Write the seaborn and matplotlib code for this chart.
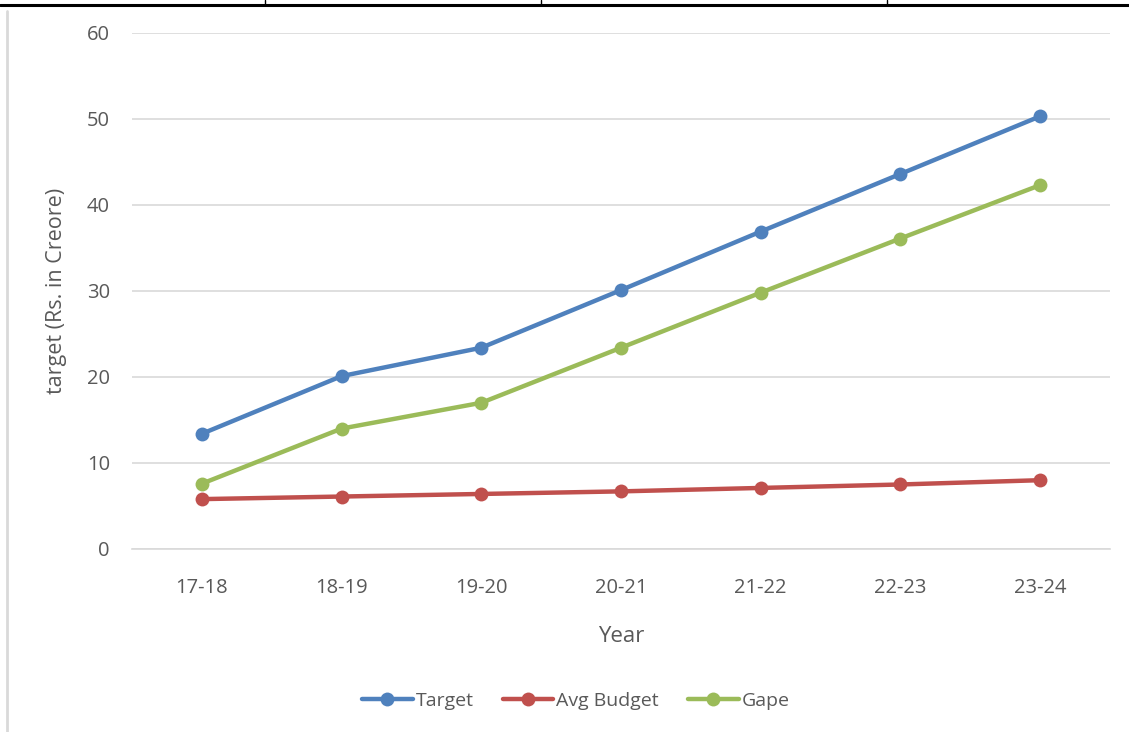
import pandas as pd
import numpy as np

import seaborn as sns
import matplotlib.pyplot as plt
from matplotlib.lines import Line2D

# Values
years = ['17-18', '18-19', '19-20', '20-21', '21-22', '22-23', '23-24']
target = [13.4, 20.1, 23.4, 30.1, 36.9, 43.6, 50.3]
avg_budget = [5.8, 6.1, 6.4, 6.7, 7.1, 7.5, 8.0]
gape = [7.6, 14.0, 17.0, 23.4, 29.8, 36.1, 42.3]

series_names = ['Target', 'Avg Budget', 'Gape']
colors = ['#4F81BD', '#C0504D', '#9BBB59']

df = pd.DataFrame({'Year': years * 3,
                   'value': target + avg_budget + gape,
                   'series': np.repeat(series_names, len(years))})

sns.set_style('white')
plt.rcParams['font.family'] = ['Open Sans', 'DejaVu Sans']

fig = plt.figure(figsize=(11.29, 7.32), dpi=100)
ax = fig.add_axes([0.117, 0.25, 0.866, 0.705])

sns.lineplot(data=df, x='Year', y='value', hue='series', palette=colors,
             marker='o', markersize=10, markeredgewidth=0, linewidth=3.2,
             sort=False, legend=False, ax=ax)

ax.set_xlim(-0.5, len(years) - 0.5)
ax.set_ylim(0, 60)
ax.set_yticks(range(0, 61, 10))
ax.grid(axis='y', color='#D9D9D9', linewidth=1.2)
ax.set_axisbelow(True)
for s in ['top', 'right', 'left']:
    ax.spines[s].set_visible(False)
ax.spines['bottom'].set_color('#D9D9D9')
ax.spines['bottom'].set_linewidth(1.2)
ax.tick_params(axis='both', length=0, labelsize=14.5, labelcolor='#595959')
ax.tick_params(axis='y', pad=16)
ax.tick_params(axis='x', pad=21)
ax.set_xlabel('Year', fontsize=16, color='#595959', labelpad=20)
ax.set_ylabel('target (Rs. in Creore)', fontsize=15.5, color='#595959', labelpad=14)

handles = [Line2D([], [], color=c, marker='o', markersize=10, markeredgewidth=0,
                  linewidth=3.2) for c in colors]
fig.legend(handles, series_names, loc='center', bbox_to_anchor=(0.51, 0.043),
           ncol=3, frameon=False, fontsize=14, labelcolor='#595959',
           handlelength=2.6, handletextpad=0.15, columnspacing=1.5)

# page decorations around the chart (table border remnants)
fig.add_artist(Line2D([0, 1], [0.993, 0.993], color='black', linewidth=2.2))
for xp in [265, 541, 887]:
    fig.add_artist(Line2D([xp / 1129, xp / 1129], [0.993, 1.0], color='black', linewidth=1))
fig.add_artist(Line2D([7 / 1129, 7 / 1129], [0, 0.985], color='#D9D9D9', linewidth=2))

fig.savefig('out.png', dpi=100)
